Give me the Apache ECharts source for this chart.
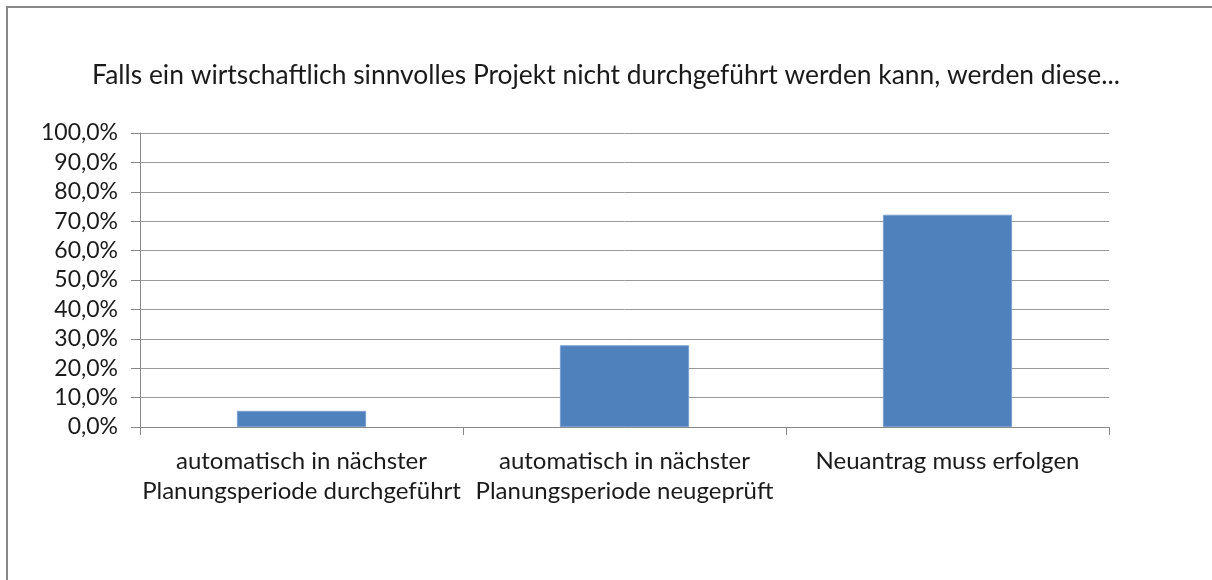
<!DOCTYPE html>
<html><head><meta charset="utf-8">
<script src="https://cdn.jsdelivr.net/npm/echarts@6/dist/echarts.min.js"></script>
<style>html,body{margin:0;padding:0;background:#fff}#c{width:1212px;height:580px}</style>
</head><body><div id="c"></div>
<script>
const titleText = 'Falls ein wirtschaftlich sinnvolles Projekt nicht durchgeführt werden kann, werden diese...';
const categories = ['automatisch in nächster\nPlanungsperiode durchgeführt', 'automatisch in nächster\nPlanungsperiode neugeprüft', 'Neuantrag muss erfolgen'];
const values = [5.5, 27.8, 72.2];
const yMin = 0, yMax = 100, yStep = 10;
const FONT = 'Lato';
const chart = echarts.init(document.getElementById('c'), null, {renderer: 'canvas'});
chart.setOption({
  animation: false,
  backgroundColor: '#fff',
  graphic: [{type: 'rect', shape: {x: 7, y: 7, width: 1400, height: 800}, style: {fill: 'none', stroke: '#888', lineWidth: 2}, silent: true}],
  title: {text: titleText, left: 'center', top: 57, textStyle: {fontFamily: FONT, fontSize: 26.4, fontWeight: 'normal', color: '#1a1a1a'}},
  grid: {left: 140, right: 103, top: 133, bottom: 153},
  xAxis: {
    type: 'category', data: categories,
    axisLine: {lineStyle: {color: '#888', width: 1}},
    axisTick: {show: true, length: 8, lineStyle: {color: '#888'}},
    axisLabel: {fontFamily: FONT, fontSize: 24, color: '#1a1a1a', lineHeight: 30, margin: 19, interval: 0}
  },
  yAxis: {
    type: 'value', min: yMin, max: yMax, interval: yStep,
    axisLine: {show: true, lineStyle: {color: '#888', width: 1}},
    axisTick: {show: true, length: 9, lineStyle: {color: '#888'}},
    splitLine: {lineStyle: {color: '#999', width: 1}},
    axisLabel: {fontFamily: FONT, fontSize: 23, color: '#1a1a1a', margin: 22, formatter: v => v.toFixed(1).replace('.', ',') + '%'}
  },
  series: [{type: 'bar', data: values, barWidth: '40%', itemStyle: {color: '#4F81BD', borderColor: '#7a9fd0', borderWidth: 1}}]
});
</script></body></html>
